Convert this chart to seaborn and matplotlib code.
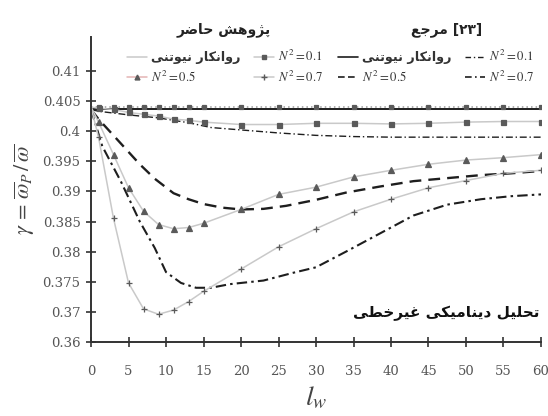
import matplotlib
matplotlib.use("Agg")
import matplotlib.pyplot as plt
import pandas as pd
import seaborn as sns
from matplotlib.lines import Line2D
from matplotlib.ticker import FixedLocator, FixedFormatter

# ---------------- data ----------------
# present study (markers on light lines)
x_present = [0, 1, 3, 5, 7, 9, 11, 13, 15, 20, 25, 30, 35, 40, 45, 50, 55, 60]
present_newtonian = [0.4040, 0.4040, 0.4040, 0.4040, 0.4040, 0.4040, 0.4040, 0.4040, 0.4040,
                     0.4040, 0.4040, 0.4040, 0.4040, 0.4040, 0.4040, 0.4040, 0.4040, 0.4040]
present_n01 = [0.4040, 0.4038, 0.4036, 0.4031, 0.4028, 0.4025, 0.4020, 0.4018, 0.4015,
               0.4011, 0.4011, 0.4013, 0.4013, 0.4012, 0.4013, 0.4015, 0.4016, 0.4016]
present_n05 = [0.4040, 0.4015, 0.3961, 0.3906, 0.3867, 0.3845, 0.3838, 0.3840, 0.3847,
               0.3870, 0.3895, 0.3907, 0.3924, 0.3935, 0.3945, 0.3952, 0.3956, 0.3961]
present_n07 = [0.4040, 0.3990, 0.3855, 0.3748, 0.3705, 0.3696, 0.3703, 0.3717, 0.3734,
               0.3771, 0.3808, 0.3838, 0.3866, 0.3887, 0.3906, 0.3918, 0.3930, 0.3935]

# reference [23] (smooth black curves)
x_ref_newtonian = [0, 60]
ref_newtonian = [0.4036, 0.4036]
x_ref_n01 = [0, 1, 5, 9, 13, 16, 20, 25, 30, 35, 40, 50, 60]
ref_n01 = [0.4036, 0.4033, 0.4027, 0.4022, 0.4014, 0.4006, 0.4002, 0.3997, 0.3993,
           0.3991, 0.3990, 0.3990, 0.3990]
x_ref_n05 = [0, 1, 3.5, 6.5, 8.5, 11, 13, 15, 17.5, 20, 23, 26, 30, 34, 38.5, 43, 47.5, 52, 56, 60]
ref_n05 = [0.4036, 0.4020, 0.3986, 0.3945, 0.3921, 0.3897, 0.3887, 0.3879, 0.3873, 0.3870,
           0.3871, 0.3876, 0.3886, 0.3898, 0.3908, 0.3917, 0.3922, 0.3927, 0.3930, 0.3934]
x_ref_n07 = [0, 1.5, 4, 6.5, 8.5, 10, 12, 14, 16, 18.5, 23, 27, 30, 34, 38.5, 43, 47.5, 52, 56, 60]
ref_n07 = [0.4036, 0.3975, 0.3916, 0.3850, 0.3806, 0.3766, 0.3748, 0.3740, 0.3740, 0.3746,
           0.3752, 0.3765, 0.3774, 0.3800, 0.3830, 0.3860, 0.3878, 0.3887, 0.3892, 0.3895]

x_ticks = [0, 5, 10, 15, 20, 25, 30, 35, 40, 45, 50, 55, 60]
y_ticks = [0.365, 0.37, 0.375, 0.38, 0.385, 0.39, 0.395, 0.40, 0.405, 0.41]
y_tick_labels = ["0.36", "0.37", "0.375", "0.38", "0.385", "0.39", "0.395", "0.4", "0.405", "0.41"]

title_present = "پژوهش حاضر"
title_ref_word = "مرجع"
title_ref_num = "[۲۳]"
label_newtonian = "روانکار نیوتنی"
label_n = [r"$N^2=0.1$", r"$N^2=0.5$", r"$N^2=0.7$"]
note_text = "تحلیل دینامیکی غیرخطی"

# ---------------- Persian shaping (presentation forms, visual order) ----------------
FORMS = {
    "پ": (0xFB56, 0xFB57, 0xFB58, 0xFB59),
    "ژ": (0xFB8A, 0xFB8B, None, None),
    "و": (0xFEED, 0xFEEE, None, None),
    "ه": (0xFEE9, 0xFEEA, 0xFEEB, 0xFEEC),
    "ش": (0xFEB5, 0xFEB6, 0xFEB7, 0xFEB8),
    "ح": (0xFEA1, 0xFEA2, 0xFEA3, 0xFEA4),
    "ا": (0xFE8D, 0xFE8E, None, None),
    "ض": (0xFEBD, 0xFEBE, 0xFEBF, 0xFEC0),
    "ر": (0xFEAD, 0xFEAE, None, None),
    "م": (0xFEE1, 0xFEE2, 0xFEE3, 0xFEE4),
    "ج": (0xFE9D, 0xFE9E, 0xFE9F, 0xFEA0),
    "ع": (0xFEC9, 0xFECA, 0xFECB, 0xFECC),
    "ن": (0xFEE5, 0xFEE6, 0xFEE7, 0xFEE8),
    "ک": (0xFB8E, 0xFB8F, 0xFB90, 0xFB91),
    "ی": (0xFBFC, 0xFBFD, 0xFBFE, 0xFBFF),
    "ت": (0xFE95, 0xFE96, 0xFE97, 0xFE98),
    "ل": (0xFEDD, 0xFEDE, 0xFEDF, 0xFEE0),
    "د": (0xFEA9, 0xFEAA, None, None),
    "غ": (0xFECD, 0xFECE, 0xFECF, 0xFED0),
    "خ": (0xFEA5, 0xFEA6, 0xFEA7, 0xFEA8),
    "ط": (0xFEC1, 0xFEC2, 0xFEC3, 0xFEC4),
}


def _dual(c):
    return c in FORMS and FORMS[c][2] is not None


def shape(text):
    out = []
    for i, c in enumerate(text):
        if c not in FORMS:
            out.append(c)
            continue
        prev = text[i - 1] if i > 0 else None
        nxt = text[i + 1] if i + 1 < len(text) else None
        jp = prev is not None and _dual(prev)
        jn = _dual(c) and nxt is not None and nxt in FORMS
        iso, fin, ini, med = FORMS[c]
        if jp and jn:
            code = med
        elif jp:
            code = fin
        elif jn:
            code = ini
        else:
            code = iso
        out.append(chr(code))
    return "".join(reversed(out))


# ---------------- style ----------------
sns.set_theme(style="ticks")
plt.rcParams["font.family"] = ["DejaVu Serif"]
plt.rcParams["mathtext.fontset"] = "stix"
FA = ["DejaVu Sans"]

fig = plt.figure(figsize=(5.48, 4.16), dpi=100)
ax = fig.add_axes([0.1661, 0.1779, 0.8211, 0.7332])

LIGHT = "#c9c9c9"
MK = "#5a5a5a"
DARK = "#1e1e1e"


def present(x, y, marker, ms, ls="-", color=LIGHT):
    df = pd.DataFrame({"x": x, "y": y})
    sns.lineplot(data=df, x="x", y="y", ax=ax, color=color, lw=1.1, linestyle=ls,
                 marker=marker, markersize=ms, markerfacecolor=MK, markeredgecolor=MK,
                 markeredgewidth=0.9, markevery=list(range(1, len(x))), sort=False,
                 estimator=None, legend=False)


def reference(x, y, dashes, lw):
    df = pd.DataFrame({"x": x, "y": y})
    sns.lineplot(data=df, x="x", y="y", ax=ax, color=DARK, lw=lw, dashes=False,
                 sort=False, estimator=None, legend=False).lines[-1].set_linestyle(dashes)


reference(x_ref_newtonian, ref_newtonian, "-", 1.4)
reference(x_ref_n01, ref_n01, (0, (5, 2, 1, 2)), 1.0)
reference(x_ref_n05, ref_n05, (0, (5, 3)), 1.7)
reference(x_ref_n07, ref_n07, (0, (5, 2, 1.2, 2)), 1.5)

present(x_present, present_newtonian, "s", 2.6, ls=(0, (1, 2)), color="#9a9a9a")
present(x_present, present_n01, "s", 3.6)
present(x_present, present_n05, "^", 4.3)
present(x_present, present_n07, "+", 5.0)

# ---------------- axes ----------------
ax.set_xlim(0, 60)
ax.set_ylim(0.365, 0.41563)
ax.xaxis.set_major_locator(FixedLocator(x_ticks))
ax.yaxis.set_major_locator(FixedLocator(y_ticks))
ax.yaxis.set_major_formatter(FixedFormatter(y_tick_labels))
ax.set_xticklabels([str(t) for t in x_ticks])
for s in ("top", "right"):
    ax.spines[s].set_visible(False)
for s in ("left", "bottom"):
    ax.spines[s].set_color("#333333")
    ax.spines[s].set_linewidth(1.4)
ax.tick_params(axis="both", direction="inout", length=7, width=1.2, color="#333333",
               labelcolor="#555555", labelsize=9.5)
ax.tick_params(axis="x", pad=13)
ax.tick_params(axis="y", pad=4)

ax.set_xlabel(r"$l_w$", fontsize=20, color="#444444", labelpad=5)
ax.set_ylabel(r"$\gamma\,=\,\overline{\omega}_P\,/\,\overline{\omega}$", fontsize=16,
              color="#444444", labelpad=4)

# ---------------- legends ----------------
h_p_newt = Line2D([], [], color=LIGHT, lw=1.1)
h_p01 = Line2D([], [], color=LIGHT, lw=1.1, marker="s", ms=3.5, mfc=MK, mec=MK)
h_p05 = Line2D([], [], color="#e4b4b4", lw=1.1, marker="^", ms=3.5, mfc=MK, mec=MK)
h_p07 = Line2D([], [], color=LIGHT, lw=1.1, marker="+", ms=4.5, mec=MK)
h_r_newt = Line2D([], [], color=DARK, lw=1.2)
h_r01 = Line2D([], [], color=DARK, lw=1.0, ls=(0, (4, 2, 1, 2)))
h_r05 = Line2D([], [], color=DARK, lw=1.2, ls=(0, (4, 2)))
h_r07 = Line2D([], [], color=DARK, lw=1.2, ls=(0, (4, 2, 1, 2)))

leg_kw = dict(ncol=2, frameon=False, loc="upper left", handlelength=1.6,
              handletextpad=0.3, columnspacing=1.0, labelspacing=0.42,
              borderpad=0.0, borderaxespad=0.0,
              prop={"family": FA, "size": 9.2, "weight": "bold"})

leg1 = ax.legend([h_p_newt, h_p05, h_p01, h_p07],
                 [shape(label_newtonian), label_n[1], label_n[0], label_n[2]],
                 bbox_to_anchor=((127 - 91) / 450, 1 - (49 - 37) / 305), **leg_kw)
for t in leg1.get_texts():
    t.set_color("#333333")
ax.add_artist(leg1)

leg2 = ax.legend([h_r_newt, h_r05, h_r01, h_r07],
                 [shape(label_newtonian), label_n[1], label_n[0], label_n[2]],
                 bbox_to_anchor=((338 - 91) / 450, 1 - (49 - 37) / 305), **leg_kw)
for t in leg2.get_texts():
    t.set_color("#333333")

# group headings
fig.text(224 / 548, 1 - 30 / 416, shape(title_present), ha="center", va="center",
         family=FA, fontsize=10, weight="bold", color="#222222")
fig.text(447 / 548, 1 - 30 / 416, shape(title_ref_word) + " " + title_ref_num, ha="center",
         va="center", family=FA, fontsize=10, weight="bold", color="#222222")

# annotation
ax.text(0.997, 0.095, shape(note_text), transform=ax.transAxes, ha="right", va="center",
        family=FA, fontsize=11, weight="bold", color="#111111")

fig.savefig("out.png", dpi=100)
